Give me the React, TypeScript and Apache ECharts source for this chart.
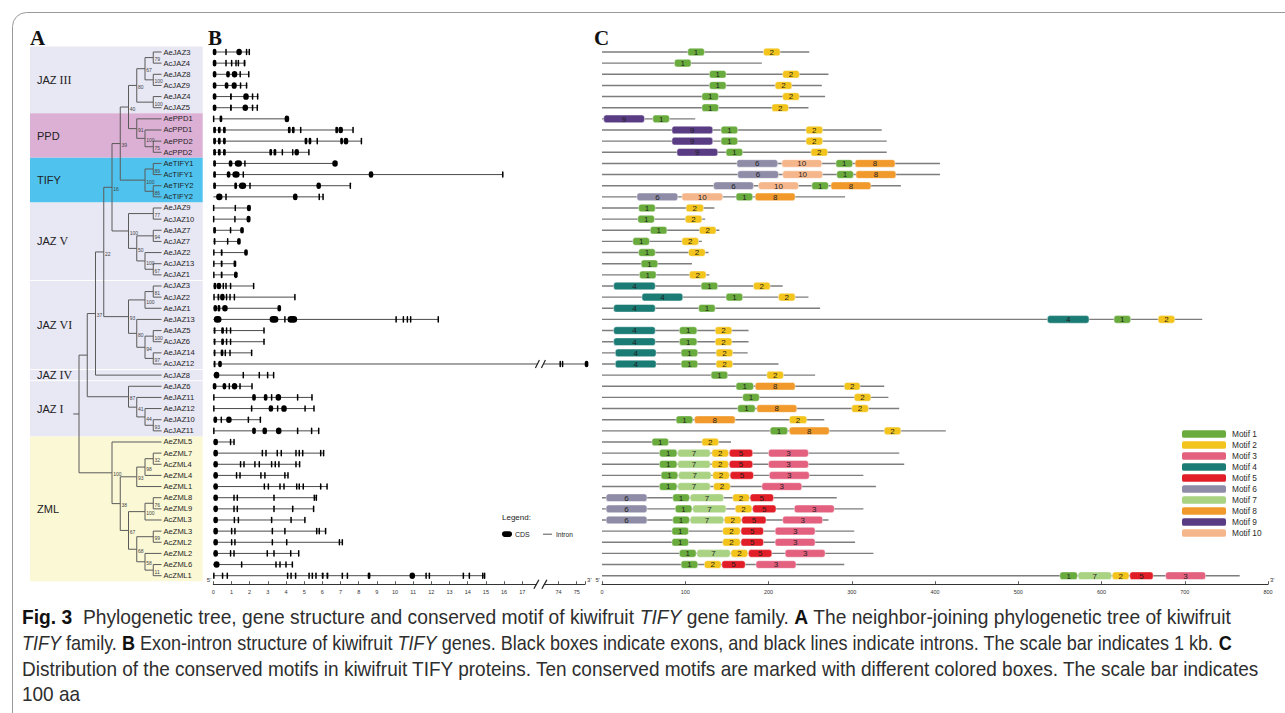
import React, { useEffect, useRef } from 'react';
import * as echarts from 'echarts';

// ---------------- DATA ----------------
const genes = [
  'AeJAZ3', 'AcJAZ4', 'AeJAZ8', 'AcJAZ9', 'AeJAZ4', 'AcJAZ5',
  'AePPD1', 'AcPPD1', 'AePPD2', 'AcPPD2',
  'AeTIFY1', 'AcTIFY1', 'AeTIFY2', 'AcTIFY2',
  'AeJAZ9', 'AcJAZ10', 'AeJAZ7', 'AcJAZ7', 'AeJAZ2', 'AcJAZ13', 'AcJAZ1',
  'AcJAZ3', 'AcJAZ2', 'AeJAZ1', 'AeJAZ13', 'AeJAZ5', 'AcJAZ6', 'AeJAZ14', 'AcJAZ12',
  'AcJAZ8',
  'AeJAZ6', 'AeJAZ11', 'AeJAZ12', 'AeJAZ10', 'AcJAZ11',
  'AeZML5', 'AeZML7', 'AcZML4', 'AeZML4', 'AeZML1', 'AeZML8', 'AeZML9', 'AcZML3',
  'AeZML3', 'AcZML2', 'AeZML2', 'AeZML6', 'AcZML1'
];

const groupNames = ['JAZ III', 'PPD', 'TIFY', 'JAZ V', 'JAZ VI', 'JAZ IV', 'JAZ I', 'ZML'];
const groupFirst = [0, 6, 10, 14, 21, 29, 30, 35];
const groupLast = [5, 9, 13, 20, 28, 29, 34, 47];
const groupColors = ['#e8e7f4', '#dcb0d5', '#4fc3ee', '#e8e7f4', '#e8e7f4', '#e8e7f4', '#e8e7f4', '#fbf8d5'];

// neighbor-joining tree: [bootstrap, left, right] or leaf name
type TNode = string | [number | null, TNode, TNode];
const tree: TNode = [null,
  [null,
    [37,
      [22,
        [16,
          [39,
            [40,
              [80, [67, [79, 'AeJAZ3', 'AcJAZ4'], [100, 'AeJAZ8', 'AcJAZ9']], [100, 'AeJAZ4', 'AcJAZ5']],
              [91, 'AePPD1', [100, 'AcPPD1', [75, 'AePPD2', 'AcPPD2']]]
            ],
            [100, [89, 'AeTIFY1', 'AcTIFY1'], [86, 'AeTIFY2', 'AcTIFY2']]
          ],
          [100, [77, 'AeJAZ9', 'AcJAZ10'], [50, [94, 'AeJAZ7', 'AcJAZ7'], [100, 'AeJAZ2', [67, 'AcJAZ13', 'AcJAZ1']]]]
        ],
        [93, [100, [81, 'AcJAZ3', 'AcJAZ2'], 'AeJAZ1'], [80, 'AeJAZ13', [94, [100, 'AeJAZ5', 'AcJAZ6'], [97, 'AeJAZ14', 'AcJAZ12']]]]
      ],
      'AcJAZ8'
    ],
    [87, 'AeJAZ6', [41, 'AeJAZ11', [44, 'AeJAZ12', [93, 'AeJAZ10', 'AcJAZ11']]]]
  ],
  [100, 'AeZML5', [38,
    [93, [98, [32, 'AeZML7', 'AcZML4'], 'AeZML4'], 'AeZML1'],
    [67, [100, [76, 'AeZML8', 'AeZML9'], 'AcZML3'], [68, [99, 'AeZML3', 'AcZML2'], [58, 'AeZML2', [11, 'AeZML6', 'AcZML1']]]]
  ]]
];

// gene structure (kb): total length, exons as [centre, width]
const geneLengthKb = [
  2.02, 1.76, 1.98, 1.87, 2.48, 2.46,
  4.1, 7.71, 8.17, 5.28,
  6.79, 15.95, 7.56, 6.06,
  1.98, 1.96, 1.6, 1.43, 1.82, 1.21, 1.26,
  2.24, 4.51, 3.65, 12.40, 2.81, 2.81, 2.13, 75.56,
  3.34,
  2.15, 5.45, 5.56, 2.61, 5.82,
  1.16, 6.09, 4.77, 4.13, 6.28, 5.69, 5.54, 5.06,
  6.20, 7.12, 4.72, 4.37, 14.95
];
const geneExons: number[][][] = [
  [[0.07, 0.2], [0.70, 0.07], [1.42, 0.3], [1.83, 0.07], [1.98, 0.07]],
  [[0.07, 0.2], [0.70, 0.07], [1.01, 0.07], [1.25, 0.07], [1.38, 0.07], [1.72, 0.1]],
  [[0.07, 0.2], [0.81, 0.2], [1.17, 0.3], [1.48, 0.07], [1.95, 0.07]],
  [[0.07, 0.2], [0.73, 0.2], [1.15, 0.28], [1.50, 0.07], [1.83, 0.07]],
  [[0.07, 0.2], [0.97, 0.1], [1.80, 0.3], [2.16, 0.07], [2.44, 0.07]],
  [[0.07, 0.2], [0.97, 0.1], [1.76, 0.3], [2.16, 0.07], [2.42, 0.07]],
  [[0.02, 0.05], [0.42, 0.15], [4.05, 0.25]],
  [[0.07, 0.15], [0.33, 0.15], [0.61, 0.15], [4.18, 0.15], [4.40, 0.15], [4.81, 0.07], [6.79, 0.15], [7.01, 0.25], [7.69, 0.05]],
  [[0.07, 0.15], [0.33, 0.15], [0.61, 0.15], [5.10, 0.15], [5.32, 0.15], [5.72, 0.07], [7.06, 0.15], [7.30, 0.25], [8.15, 0.05]],
  [[0.07, 0.15], [0.33, 0.15], [0.61, 0.15], [3.16, 0.15], [3.39, 0.15], [3.80, 0.07], [4.37, 0.07], [4.59, 0.25], [5.26, 0.05]],
  [[0.07, 0.15], [0.95, 0.2], [1.38, 0.4], [1.74, 0.07], [6.70, 0.3]],
  [[0.07, 0.15], [0.84, 0.2], [1.25, 0.4], [1.65, 0.07], [8.68, 0.25], [15.93, 0.05]],
  [[0.07, 0.15], [1.23, 0.15], [1.61, 0.4], [2.02, 0.07], [5.80, 0.25], [7.54, 0.05]],
  [[0.33, 0.35], [0.70, 0.07], [4.51, 0.25], [5.83, 0.07], [6.04, 0.05]],
  [[0.02, 0.05], [1.21, 0.07], [1.96, 0.22]],
  [[0.02, 0.05], [1.19, 0.07], [1.94, 0.22]],
  [[0.07, 0.15], [0.95, 0.07], [1.58, 0.2]],
  [[0.07, 0.1], [0.79, 0.07], [1.41, 0.2]],
  [[0.03, 0.05], [0.46, 0.1], [1.80, 0.2]],
  [[0.03, 0.05], [0.46, 0.1], [1.19, 0.15]],
  [[0.03, 0.05], [0.46, 0.1], [1.24, 0.2]],
  [[0.09, 0.15], [0.31, 0.25], [0.55, 0.07], [0.70, 0.07], [0.95, 0.07], [2.22, 0.05]],
  [[0.04, 0.07], [0.28, 0.1], [0.50, 0.25], [0.73, 0.07], [0.92, 0.07], [1.16, 0.07], [4.49, 0.05]],
  [[0.11, 0.2], [0.31, 0.15], [0.64, 0.3], [3.63, 0.2]],
  [[0.24, 0.42], [3.34, 0.48], [3.94, 0.07], [4.35, 0.53], [10.06, 0.07], [10.46, 0.07], [10.68, 0.07], [10.86, 0.07], [12.38, 0.05]],
  [[0.07, 0.1], [0.51, 0.15], [0.73, 0.07], [0.95, 0.07], [2.79, 0.05]],
  [[0.07, 0.1], [0.51, 0.15], [0.73, 0.07], [0.95, 0.07], [2.79, 0.05]],
  [[0.07, 0.1], [0.48, 0.15], [0.66, 0.07], [0.92, 0.07], [2.11, 0.05]],
  [[0.07, 0.1], [0.37, 0.2], [74.09, 0.07], [74.22, 0.07], [75.54, 0.2]],
  [[0.18, 0.3], [1.65, 0.07], [2.53, 0.07], [2.99, 0.07], [3.32, 0.07]],
  [[0.07, 0.2], [0.61, 0.2], [0.88, 0.07], [1.17, 0.3], [1.47, 0.07], [2.13, 0.05]],
  [[0.03, 0.05], [2.24, 0.2], [2.88, 0.2], [3.21, 0.07], [3.58, 0.3], [4.64, 0.07], [5.43, 0.05]],
  [[0.03, 0.05], [2.11, 0.07], [3.17, 0.25], [3.54, 0.07], [3.89, 0.3], [5.05, 0.07], [5.54, 0.05]],
  [[0.11, 0.2], [0.44, 0.07], [0.86, 0.3], [1.93, 0.07], [2.59, 0.05]],
  [[0.03, 0.05], [2.24, 0.2], [2.83, 0.25], [3.60, 0.3], [4.64, 0.07], [5.41, 0.07], [5.80, 0.05]],
  [[0.13, 0.25], [0.95, 0.07], [1.14, 0.07]],
  [[0.13, 0.25], [2.70, 0.07], [2.90, 0.07], [3.52, 0.07], [3.74, 0.07], [4.55, 0.07], [4.73, 0.07], [4.92, 0.07], [5.91, 0.07], [6.07, 0.07]],
  [[0.13, 0.25], [1.50, 0.07], [1.69, 0.07], [2.29, 0.07], [2.53, 0.07], [3.21, 0.07], [3.41, 0.07], [3.61, 0.07], [4.55, 0.07], [4.75, 0.07]],
  [[0.13, 0.25], [1.28, 0.07], [1.47, 0.07], [2.62, 0.07], [2.84, 0.07], [3.94, 0.07], [4.11, 0.07]],
  [[0.13, 0.25], [2.81, 0.07], [3.03, 0.07], [3.67, 0.07], [3.89, 0.07], [4.59, 0.07], [4.73, 0.07], [4.95, 0.07], [5.91, 0.07], [6.26, 0.05]],
  [[0.13, 0.25], [1.14, 0.07], [1.32, 0.07], [3.34, 0.07], [5.56, 0.07], [5.67, 0.07]],
  [[0.13, 0.25], [1.14, 0.07], [1.32, 0.07], [3.34, 0.07], [4.37, 0.07], [5.52, 0.07]],
  [[0.13, 0.25], [1.16, 0.07], [1.38, 0.07], [3.21, 0.07], [4.28, 0.07], [5.04, 0.05]],
  [[0.13, 0.25], [1.01, 0.07], [1.19, 0.07], [3.25, 0.07], [3.94, 0.07], [5.69, 0.07], [5.83, 0.07], [6.18, 0.05]],
  [[0.13, 0.25], [1.01, 0.07], [1.19, 0.07], [3.25, 0.07], [4.04, 0.07], [6.94, 0.07], [7.10, 0.07]],
  [[0.13, 0.25], [0.95, 0.07], [1.14, 0.07], [2.97, 0.07], [3.34, 0.07], [4.26, 0.07], [4.70, 0.07]],
  [[0.18, 0.33], [1.56, 0.07], [3.45, 0.07], [3.67, 0.07], [4.00, 0.07], [4.35, 0.07]],
  [[0.03, 0.05], [0.51, 0.07], [0.77, 0.07], [4.09, 0.07], [4.28, 0.07], [4.53, 0.07], [5.27, 0.07], [5.45, 0.07], [5.65, 0.07], [6.02, 0.1], [6.28, 0.1], [7.10, 0.07], [7.38, 0.07], [8.57, 0.15], [10.95, 0.3], [11.71, 0.07], [11.89, 0.07], [13.76, 0.07], [14.09, 0.07], [14.83, 0.07], [14.93, 0.07]]
];
// kb scale with a break: 0..17, break, 74, 75
const bTickLabels = ['0', '1', '2', '3', '4', '5', '6', '7', '8', '9', '10', '11', '12', '13', '14', '15', '16', '17', '', '74', '75'];
const BREAK_POS = 18;      // axis position of the break
const BREAK_SHIFT = 55;    // kb removed by the break (74 kb sits at position 19)
const B_AXIS_MAX = 20.46;

// conserved motifs (aa): protein length, hits [motif, start, end]
const protLengths = [
  249, 192, 272, 264, 268, 248,
  112, 336, 342, 342,
  406, 406, 359, 292,
  135, 124, 141, 120, 128, 108, 129,
  217, 248, 262, 721, 176, 176, 175, 212,
  256,
  339, 344, 357, 267, 413,
  155, 357, 363, 314, 329, 282, 314, 272,
  303, 304, 326, 291, 766
];
const motifHits: number[][][] = [
  [[1, 103, 123], [2, 194, 214]],
  [[1, 87, 107]],
  [[1, 129, 149], [2, 217, 237]],
  [[1, 129, 149], [2, 208, 228]],
  [[1, 120, 140], [2, 217, 237]],
  [[1, 120, 140], [2, 204, 224]],
  [[9, 2, 51], [1, 61, 81]],
  [[9, 84, 133], [1, 143, 163], [2, 245, 265]],
  [[9, 84, 133], [1, 143, 163], [2, 245, 265]],
  [[9, 90, 139], [1, 149, 169], [2, 251, 271]],
  [[6, 162, 211], [10, 216, 264], [1, 281, 301], [8, 304, 352]],
  [[6, 163, 212], [10, 217, 265], [1, 282, 302], [8, 305, 353]],
  [[6, 134, 182], [10, 188, 236], [1, 252, 272], [8, 275, 323]],
  [[6, 42, 91], [10, 96, 145], [1, 161, 181], [8, 184, 232]],
  [[1, 44, 64], [2, 101, 122]],
  [[1, 43, 63], [2, 100, 120]],
  [[1, 58, 78], [2, 117, 137]],
  [[1, 37, 57], [2, 96, 116]],
  [[1, 44, 64], [2, 104, 124]],
  [[1, 47, 67]],
  [[1, 45, 65], [2, 105, 125]],
  [[4, 14, 64], [1, 119, 139], [2, 182, 202]],
  [[4, 48, 97], [1, 149, 169], [2, 212, 232]],
  [[4, 14, 64], [1, 116, 136]],
  [[4, 535, 585], [1, 615, 635], [2, 668, 688]],
  [[4, 14, 64], [1, 93, 114], [2, 136, 156]],
  [[4, 14, 64], [1, 93, 114], [2, 136, 156]],
  [[4, 16, 65], [1, 95, 115], [2, 137, 157]],
  [[4, 16, 65], [1, 95, 115], [2, 137, 157]],
  [[1, 131, 151], [2, 198, 218]],
  [[1, 161, 182], [8, 184, 232], [2, 291, 310]],
  [[1, 169, 189], [2, 303, 323]],
  [[1, 163, 184], [8, 186, 234], [2, 300, 320]],
  [[1, 89, 109], [8, 111, 160], [2, 225, 246]],
  [[1, 202, 223], [8, 225, 273], [2, 339, 359]],
  [[1, 60, 80], [2, 120, 140]],
  [[1, 69, 90], [7, 91, 130], [2, 132, 152], [5, 153, 181], [3, 200, 248]],
  [[1, 69, 90], [7, 91, 130], [2, 132, 152], [5, 153, 181], [3, 200, 248]],
  [[1, 71, 91], [7, 92, 131], [2, 133, 153], [5, 154, 182], [3, 201, 249]],
  [[1, 69, 90], [7, 91, 130], [2, 134, 154], [3, 192, 240]],
  [[6, 5, 54], [1, 85, 105], [7, 106, 146], [2, 157, 177], [5, 178, 206]],
  [[6, 5, 54], [1, 88, 108], [7, 109, 149], [2, 160, 180], [5, 181, 209], [3, 231, 279]],
  [[6, 5, 54], [1, 85, 105], [7, 106, 146], [2, 147, 167], [5, 168, 197], [3, 217, 265]],
  [[1, 84, 104], [2, 145, 166], [5, 167, 194], [3, 208, 256]],
  [[1, 84, 104], [2, 145, 166], [5, 167, 194], [3, 208, 256]],
  [[1, 93, 113], [7, 114, 154], [2, 155, 175], [5, 176, 204], [3, 220, 268]],
  [[1, 95, 115], [2, 123, 143], [5, 144, 172], [3, 185, 233]],
  [[1, 550, 571], [7, 572, 612], [2, 613, 633], [5, 634, 662], [3, 677, 725]]
];
const motifNames = ['Motif 1', 'Motif 2', 'Motif 3', 'Motif 4', 'Motif 5', 'Motif 6', 'Motif 7', 'Motif 8', 'Motif 9', 'Motif 10'];
const motifColors = ['#6aab3e', '#f2c41c', '#e4607f', '#1b7c75', '#e11d27', '#8f8ca8', '#a9d283', '#f19a2b', '#5a3c85', '#f6b68b'];

const captionLines: [string, string][][] = [
  [['b', 'Fig. 3'], ['n', '  Phylogenetic tree, gene structure and conserved motif of kiwifruit '], ['i', 'TIFY'], ['n', ' gene family. '], ['b', 'A'], ['n', ' The neighbor-joining phylogenetic tree of kiwifruit']],
  [['i', 'TIFY'], ['n', ' family. '], ['b', 'B'], ['n', ' Exon-intron structure of kiwifruit '], ['i', 'TIFY'], ['n', ' genes. Black boxes indicate exons, and black lines indicate introns. The scale bar indicates 1 kb. '], ['b', 'C']],
  [['n', 'Distribution of the conserved motifs in kiwifruit TIFY proteins. Ten conserved motifs are marked with different colored boxes. The scale bar indicates']],
  [['n', '100 aa']]
];

// ---------------- LAYOUT HELPERS ----------------
const FONT = '"Liberation Sans", Arial, Helvetica, sans-serif';
const SERIF = '"Liberation Serif", "Times New Roman", serif';

function layoutTree(root: TNode) {
  const segs: number[][] = [];
  const boots: number[][] = [];
  const walk = (n: TNode): { h: number; r: number } => {
    if (typeof n === 'string') return { h: 0, r: genes.indexOf(n) };
    const a = walk(n[1]);
    const b = walk(n[2]);
    const h = Math.max(a.h, b.h) + 1;
    const r = (a.r + b.r) / 2;
    segs.push([h, a.r, h, b.r]);
    segs.push([h, a.r, a.h, a.r]);
    segs.push([h, b.r, b.h, b.r]);
    if (n[0] !== null) boots.push([h, r, n[0] as number]);
    return { h, r };
  };
  const top = walk(root);
  segs.push([top.h + 0.7, top.r, top.h, top.r]);
  return { segs, boots, height: top.h };
}

const dispKb = (kb: number) => (kb > BREAK_POS ? kb - BREAK_SHIFT : kb);

function buildOption() {
  const { segs, boots, height } = layoutTree(tree);
  const nRows = genes.length;
  const gridTop = 52;
  const gridH = 523.7;
  const axisOffset = 8.5;

  const yAxes = [0, 1, 2].map((g) => ({
    type: 'value', gridIndex: g, min: 0, max: nRows - 1, inverse: true, show: false
  }));

  const bottomAxisCommon = {
    type: 'value',
    position: 'bottom',
    offset: axisOffset,
    splitLine: { show: false },
    axisLine: { onZero: false, lineStyle: { color: '#333', width: 1 } },
    axisTick: { inside: true, length: 3, lineStyle: { color: '#333', width: 0.8 } },
    axisLabel: { fontSize: 5.5, color: '#333', margin: 5, fontFamily: FONT }
  };

  const series: any[] = [];

  // group backgrounds + group labels
  series.push({
    type: 'custom', name: 'groups', xAxisIndex: 0, yAxisIndex: 0, silent: true, clip: false, z: 0,
    data: groupNames.map((_, i) => [0, groupFirst[i], i]),
    renderItem: (_p: any, api: any) => {
      const i = api.value(2);
      const yt = api.coord([0, groupFirst[i] - 0.5])[1];
      const yb = api.coord([0, groupLast[i] + 0.5])[1];
      const ym = api.coord([0, (groupFirst[i] + groupLast[i]) / 2])[1];
      const children: any[] = [
        { type: 'rect', shape: { x: 30, y: yt, width: 172.7, height: yb - yt }, style: { fill: groupColors[i] } }
      ];
      if (i > 0 && groupColors[i] === groupColors[i - 1]) {
        children.push({ type: 'line', shape: { x1: 30, y1: yt, x2: 202.7, y2: yt }, style: { stroke: '#ffffff', lineWidth: 1 } });
      }
      const name = groupNames[i];
      const m = name.match(/^(\S+) ([IVX]+)$/);
      const text = m ? `{s|${m[1]} }{r|${m[2]}}` : `{s|${name}}`;
      children.push({
        type: 'text',
        style: {
          text, x: 37, y: ym, verticalAlign: 'middle', align: 'left',
          rich: {
            s: { fontFamily: FONT, fontSize: 11, fill: '#222' },
            r: { fontFamily: SERIF, fontSize: 12, fill: '#222' }
          }
        }
      });
      return { type: 'group', children };
    }
  });

  // tree branches
  series.push({
    type: 'custom', name: 'tree', xAxisIndex: 0, yAxisIndex: 0, silent: true, clip: false, z: 2,
    data: segs,
    renderItem: (_p: any, api: any) => {
      const a = api.coord([api.value(0), api.value(1)]);
      const b = api.coord([api.value(2), api.value(3)]);
      return {
        type: 'line',
        shape: { x1: a[0], y1: a[1], x2: b[0], y2: b[1] },
        style: { stroke: '#5a5a5a', lineWidth: 1 }
      };
    }
  });

  // bootstrap values
  series.push({
    type: 'custom', name: 'bootstrap', xAxisIndex: 0, yAxisIndex: 0, silent: true, clip: false, z: 3,
    data: boots,
    renderItem: (_p: any, api: any) => {
      const p = api.coord([api.value(0), api.value(1)]);
      return {
        type: 'text',
        style: { text: String(api.value(2)), x: p[0] + 1.3, y: p[1] + 1.6, verticalAlign: 'middle', fontSize: 5, fontFamily: FONT, fill: '#444' }
      };
    }
  });

  // leaf labels
  series.push({
    type: 'custom', name: 'leaves', xAxisIndex: 0, yAxisIndex: 0, silent: true, clip: false, z: 3,
    data: genes.map((_, i) => [0, i]),
    renderItem: (_p: any, api: any) => {
      const r = api.value(1);
      const p = api.coord([0, r]);
      return {
        type: 'text',
        style: { text: genes[r], x: p[0] + 2, y: p[1], verticalAlign: 'middle', fontSize: 7.6, fontFamily: FONT, fill: '#1e1e1e' }
      };
    }
  });

  // gene structures
  series.push({
    type: 'custom', name: 'genes', xAxisIndex: 1, yAxisIndex: 1, silent: true, clip: false, z: 2,
    data: genes.map((_, i) => [0, i]),
    renderItem: (_p: any, api: any) => {
      const r = api.value(1);
      const start = api.coord([0, r]);
      const y = start[1];
      const len = dispKb(geneLengthKb[r]);
      const xe = api.coord([len, r])[0];
      const children: any[] = [];
      const lineStyle = { stroke: '#4a4a4a', lineWidth: 1 };
      if (len > BREAK_POS) {
        const xb = api.coord([BREAK_POS, r])[0];
        children.push({ type: 'line', shape: { x1: start[0], y1: y, x2: xb - 3, y2: y }, style: lineStyle });
        children.push({ type: 'line', shape: { x1: xb + 3, y1: y, x2: xe, y2: y }, style: lineStyle });
        [-3, 3].forEach((d) => children.push({
          type: 'line', shape: { x1: xb + d - 2, y1: y + 4, x2: xb + d + 2, y2: y - 4 }, style: { stroke: '#222', lineWidth: 1.2 }
        }));
      } else {
        children.push({ type: 'line', shape: { x1: start[0], y1: y, x2: xe, y2: y }, style: lineStyle });
      }
      geneExons[r].forEach(([c, w]) => {
        const xc = api.coord([dispKb(c), r])[0];
        const pw = Math.max(1.5, api.size([w, 0])[0]);
        children.push({
          type: 'rect',
          shape: { x: xc - pw / 2, y: y - 3.3, width: pw, height: 6.6, r: Math.min(pw / 2, 3.3) },
          style: { fill: '#000' }
        });
      });
      return { type: 'group', children };
    }
  });

  // B axis decorations (5'/3' and break)
  series.push({
    type: 'custom', name: 'bAxisDeco', xAxisIndex: 1, yAxisIndex: 1, silent: true, clip: false, z: 5,
    data: [[0, nRows - 1]],
    renderItem: (_p: any, api: any) => {
      const p0 = api.coord([0, nRows - 1]);
      const y = p0[1] + axisOffset;
      const xe = api.coord([B_AXIS_MAX, nRows - 1])[0];
      const xb = api.coord([BREAK_POS, nRows - 1])[0];
      const t = (text: string, x: number, align: string) => ({
        type: 'text', style: { text, x, y: y - 1, align, verticalAlign: 'bottom', fontSize: 6, fontFamily: FONT, fill: '#333' }
      });
      return {
        type: 'group',
        children: [
          { type: 'rect', shape: { x: xb - 3.5, y: y - 4, width: 7, height: 5 }, style: { fill: '#fff' } },
          { type: 'line', shape: { x1: xb - 6.5, y1: y + 4.5, x2: xb - 1.5, y2: y - 4.5 }, style: { stroke: '#222', lineWidth: 1.3 } },
          { type: 'line', shape: { x1: xb + 1.5, y1: y + 4.5, x2: xb + 6.5, y2: y - 4.5 }, style: { stroke: '#222', lineWidth: 1.3 } },
          t("5'", p0[0] - 2, 'right'),
          t("3'", xe + 2, 'left')
        ]
      };
    }
  });

  // protein backbones
  series.push({
    type: 'custom', name: 'backbone', xAxisIndex: 2, yAxisIndex: 2, silent: true, clip: false, z: 2,
    data: genes.map((_, i) => [0, i]),
    renderItem: (_p: any, api: any) => {
      const r = api.value(1);
      const a = api.coord([0, r]);
      const b = api.coord([protLengths[r], r]);
      return { type: 'line', shape: { x1: a[0], y1: a[1], x2: b[0], y2: b[1] }, style: { stroke: '#7d7d7d', lineWidth: 1.4 } };
    }
  });

  // motif series
  motifNames.forEach((name, mi) => {
    const data: number[][] = [];
    motifHits.forEach((hits, r) => hits.forEach(([m, s, e]) => { if (m === mi + 1) data.push([s, r, e]); }));
    series.push({
      type: 'custom', name, xAxisIndex: 2, yAxisIndex: 2, silent: true, clip: false, z: 3,
      itemStyle: { color: motifColors[mi] },
      data,
      renderItem: (_p: any, api: any) => {
        const a = api.coord([api.value(0), api.value(1)]);
        const b = api.coord([api.value(2), api.value(1)]);
        const h = 7.6;
        return {
          type: 'group',
          children: [
            {
              type: 'rect',
              shape: { x: a[0], y: a[1] - h / 2, width: b[0] - a[0], height: h, r: 2.6 },
              style: { fill: motifColors[mi], stroke: 'rgba(255,255,255,0.55)', lineWidth: 0.8 }
            },
            {
              type: 'text',
              style: { text: String(mi + 1), x: (a[0] + b[0]) / 2, y: a[1] + 0.3, align: 'center', verticalAlign: 'middle', fontSize: 8, fontFamily: FONT, fill: '#1f1f1f' }
            }
          ]
        };
      }
    });
  });

  // C axis decorations
  series.push({
    type: 'custom', name: 'cAxisDeco', xAxisIndex: 2, yAxisIndex: 2, silent: true, clip: false, z: 5,
    data: [[0, nRows - 1]],
    renderItem: (_p: any, api: any) => {
      const p0 = api.coord([0, nRows - 1]);
      const pe = api.coord([800, nRows - 1]);
      const y = p0[1] + axisOffset;
      const t = (text: string, x: number, align: string) => ({
        type: 'text', style: { text, x, y: y - 1, align, verticalAlign: 'bottom', fontSize: 6, fontFamily: FONT, fill: '#333' }
      });
      return { type: 'group', children: [t("5'", p0[0] - 2, 'right'), t("3'", pe[0] + 2, 'left')] };
    }
  });

  // caption: condensed look by horizontal scaling to the measured line widths
  const ctx = document.createElement('canvas').getContext('2d')!;
  const capSize = 20.5;
  const fontOf = (k: string) => `${k === 'i' ? 'italic ' : ''}${k === 'b' ? 'bold ' : ''}${capSize}px "Liberation Sans", Arial, sans-serif`;
  const measure = (segsL: [string, string][]) => segsL.reduce((w, [k, t]) => { ctx.font = fontOf(k); return w + ctx.measureText(t).width; }, 0);
  const capTargets = [1210, 1210, 1238];
  const scales = captionLines.slice(0, 3).map((l, i) => capTargets[i] / measure(l));
  const capYs = [617, 643, 669, 694];
  const richCap = {
    n: { fontFamily: FONT, fontSize: capSize, fill: '#2e2e2e' },
    i: { fontFamily: FONT, fontSize: capSize, fontStyle: 'italic', fill: '#2e2e2e' },
    b: { fontFamily: FONT, fontSize: capSize, fontWeight: 'bold', fill: '#111' }
  };
  const captionEls = captionLines.map((l, i) => ({
    type: 'text',
    x: 22, y: capYs[i], scaleX: scales[Math.min(i, 2)],
    style: {
      text: l.map(([k, t]) => `{${k}|${t}}`).join(''),
      rich: richCap, verticalAlign: 'middle', align: 'left'
    },
    silent: true
  }));

  const letter = (t: string, x: number) => ({
    type: 'text', left: x, top: 27, silent: true,
    style: { text: t, fontFamily: SERIF, fontWeight: 'bold', fontSize: 21, fill: '#111' }
  });

  return {
    animation: false,
    backgroundColor: '#ffffff',
    textStyle: { fontFamily: FONT },
    grid: [
      { left: 79, top: gridTop, width: 82.5, height: gridH },
      { left: 213.3, top: gridTop, width: 371.8, height: gridH },
      { left: 602, top: gridTop, width: 666, height: gridH }
    ],
    xAxis: [
      { type: 'value', gridIndex: 0, min: 0, max: height, inverse: true, show: false },
      {
        ...bottomAxisCommon, gridIndex: 1, min: 0, max: B_AXIS_MAX, interval: 1,
        axisLabel: {
          ...bottomAxisCommon.axisLabel,
          formatter: (v: number) => {
            const i = Math.round(v);
            return Math.abs(v - i) < 1e-6 ? (bTickLabels[i] ?? '') : '';
          }
        }
      },
      { ...bottomAxisCommon, gridIndex: 2, min: 0, max: 800, interval: 100 }
    ],
    yAxis: yAxes,
    legend: {
      data: motifNames,
      orient: 'vertical',
      left: 1182, top: 430,
      itemWidth: 44, itemHeight: 7.5,
      itemGap: 3,
      icon: 'roundRect',
      selectedMode: false,
      padding: 0,
      textStyle: { fontSize: 8.3, color: '#2a2a2a', lineHeight: 8, fontFamily: FONT, padding: [0, 0, 0, 1] }
    },
    graphic: [
      { type: 'rect', silent: true, shape: { x: 12.5, y: 12.5, width: 1320, height: 740, r: 14 }, style: { fill: 'none', stroke: '#9a9a9a', lineWidth: 1 } },
      letter('A', 30), letter('B', 208), letter('C', 594),
      { type: 'text', left: 502, top: 513, silent: true, style: { text: 'Legend:', fontSize: 8, fontFamily: FONT, fill: '#222' } },
      { type: 'rect', silent: true, shape: { x: 502, y: 531.3, width: 10, height: 5.6, r: 2.8 }, style: { fill: '#000' } },
      { type: 'text', left: 515, top: 530.5, silent: true, style: { text: 'CDS', fontSize: 7, fontFamily: FONT, fill: '#222' } },
      { type: 'line', silent: true, shape: { x1: 543, y1: 534.2, x2: 552, y2: 534.2 }, style: { stroke: '#555', lineWidth: 1 } },
      { type: 'text', left: 556, top: 531, silent: true, style: { text: 'Intron', fontSize: 6.6, fontFamily: FONT, fill: '#222' } },
      ...captionEls
    ],
    series
  };
}

export default function App() {
  const ref = useRef<HTMLDivElement>(null);
  useEffect(() => {
    if (!ref.current) return;
    const chart = echarts.init(ref.current, null, { renderer: 'svg' });
    chart.setOption(buildOption() as any);
    return () => chart.dispose();
  }, []);
  return (
    <div
      ref={ref}
      style={{ position: 'fixed', left: 0, top: 0, width: 1285, height: 713, background: '#fff' }}
    />
  );
}
